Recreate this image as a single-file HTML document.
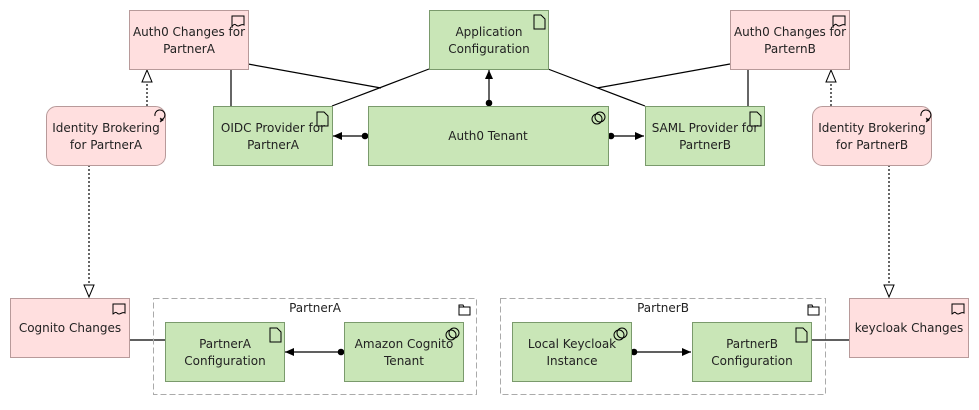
<!DOCTYPE html>
<html><head><style>
body{margin:0;background:#fff;width:979px;height:405px;overflow:hidden;font-family:"Liberation Sans","DejaVu Sans",sans-serif}
</style></head><body>
<svg width="979" height="405" xmlns="http://www.w3.org/2000/svg" font-family="'DejaVu Sans','Liberation Sans',sans-serif" font-size="12" fill="#222">
<defs>
<marker id="tri" markerWidth="14" markerHeight="12" refX="13" refY="6" orient="auto" markerUnits="userSpaceOnUse"><path d="M1,1 L13,6 L1,11 Z" fill="#fff" stroke="#000"/></marker>
<marker id="ar" markerWidth="10" markerHeight="10" refX="9" refY="5" orient="auto" markerUnits="userSpaceOnUse"><path d="M0,1 L9,5 L0,9 Z" fill="#000"/></marker>
<marker id="dot" markerWidth="8" markerHeight="8" refX="4" refY="4" markerUnits="userSpaceOnUse"><circle cx="4" cy="4" r="3.3" fill="#000"/></marker>
</defs>
<g stroke="#000" stroke-width="1.2" fill="none">
<line x1="248" y1="64" x2="381" y2="88"/>
<line x1="332" y1="106" x2="429" y2="69"/>
<line x1="548" y1="69" x2="645" y2="106"/>
<line x1="730" y1="64" x2="597" y2="88"/>
<line x1="231" y1="69" x2="231" y2="106"/>
<line x1="748" y1="69" x2="748" y2="106"/>
<line x1="129" y1="340" x2="165" y2="340"/>
<line x1="811" y1="340" x2="849" y2="340"/>
<line x1="489" y1="103" x2="489" y2="70" marker-start="url(#dot)" marker-end="url(#ar)"/>
<line x1="365" y1="136" x2="333" y2="136" marker-start="url(#dot)" marker-end="url(#ar)"/>
<line x1="611" y1="136" x2="644" y2="136" marker-start="url(#dot)" marker-end="url(#ar)"/>
<line x1="341" y1="352" x2="285" y2="352" marker-start="url(#dot)" marker-end="url(#ar)"/>
<line x1="634" y1="352" x2="691" y2="352" marker-start="url(#dot)" marker-end="url(#ar)"/>
<g stroke-dasharray="2,2">
<line x1="147" y1="106" x2="147" y2="70" marker-end="url(#tri)"/>
<line x1="831" y1="106" x2="831" y2="70" marker-end="url(#tri)"/>
<line x1="89" y1="165" x2="89" y2="297" marker-end="url(#tri)"/>
<line x1="889" y1="165" x2="889" y2="297" marker-end="url(#tri)"/>
</g>
</g>
<g stroke="#aaa" stroke-dasharray="6,3" fill="none">
<rect x="153.5" y="298.5" width="323" height="96"/>
<rect x="500.5" y="298.5" width="325" height="96"/>
</g>
<g fill="#ffdfdf" stroke="#b89a9a">
<rect x="129.5" y="10.5" width="119" height="59"/>
<rect x="730.5" y="10.5" width="119" height="59"/>
<rect x="46.5" y="106.5" width="119" height="59" rx="10"/>
<rect x="812.5" y="106.5" width="119" height="59" rx="10"/>
<rect x="10.5" y="298.5" width="119" height="59"/>
<rect x="849.5" y="298.5" width="119" height="59"/>
</g>
<g fill="#c9e6b7" stroke="#7a9a6c">
<rect x="429.5" y="10.5" width="119" height="59"/>
<rect x="213.5" y="106.5" width="119" height="59"/>
<rect x="368.5" y="106.5" width="240" height="59"/>
<rect x="645.5" y="106.5" width="119" height="59"/>
<rect x="165.5" y="322.5" width="119" height="59"/>
<rect x="344.5" y="322.5" width="119" height="59"/>
<rect x="512.5" y="322.5" width="119" height="59"/>
<rect x="692.5" y="322.5" width="119" height="59"/>
</g>
<g stroke="#000" fill="none" stroke-width="1">
<path d="M232,16h12v9c-3,-2 -5,3 -8,0c-2,-2 -3,1 -4,1z"/>
<path d="M833,16h12v9c-3,-2 -5,3 -8,0c-2,-2 -3,1 -4,1z"/>
<path d="M113,304h12v9c-3,-2 -5,3 -8,0c-2,-2 -3,1 -4,1z"/>
<path d="M952,304h12v9c-3,-2 -5,3 -8,0c-2,-2 -3,1 -4,1z"/>
<path d="M534,15h7l4,4v10h-11z"/>
<path d="M317,112h7l4,4v10h-11z"/>
<path d="M750,112h7l4,4v10h-11z"/>
<path d="M270,328h7l4,4v10h-11z"/>
<path d="M796,328h7l4,4v10h-11z"/>
<circle cx="597" cy="119" r="5"/><circle cx="600" cy="117" r="5"/>
<circle cx="451" cy="335" r="5"/><circle cx="454" cy="333" r="5"/>
<circle cx="619" cy="335" r="5"/><circle cx="622" cy="333" r="5"/>
<path d="M155,116a5,5 0 1 1 5,4h3"/><path d="M160,118l3,2l-3,2"/>
<path d="M921,116a5,5 0 1 1 5,4h3"/><path d="M926,118l3,2l-3,2"/>
<path d="M459,305h4l1,2h6v8h-11z"/><path d="M459,307h11"/>
<path d="M808,305h4l1,2h6v8h-11z"/><path d="M808,307h11"/>
</g>
<g text-anchor="middle">
<text x="189" y="36">Auth0 Changes for</text><text x="189" y="53">PartnerA</text>
<text x="489" y="36">Application</text><text x="489" y="53">Configuration</text>
<text x="790" y="36">Auth0 Changes for</text><text x="790" y="53">ParternB</text>
<text x="106" y="132">Identity Brokering</text><text x="106" y="149">for PartnerA</text>
<text x="872" y="132">Identity Brokering</text><text x="872" y="149">for PartnerB</text>
<text x="273" y="132">OIDC Provider for</text><text x="273" y="149">PartnerA</text>
<text x="488" y="140">Auth0 Tenant</text>
<text x="705" y="132">SAML Provider for</text><text x="705" y="149">PartnerB</text>
<text x="70" y="332">Cognito Changes</text>
<text x="909" y="332">keycloak Changes</text>
<text x="315" y="312">PartnerA</text>
<text x="663" y="312">PartnerB</text>
<text x="225" y="348">PartnerA</text><text x="225" y="365">Configuration</text>
<text x="404" y="348">Amazon Cognito</text><text x="404" y="365">Tenant</text>
<text x="572" y="348">Local Keycloak</text><text x="572" y="365">Instance</text>
<text x="752" y="348">PartnerB</text><text x="752" y="365">Configuration</text>
</g>
</svg>
</body></html>
